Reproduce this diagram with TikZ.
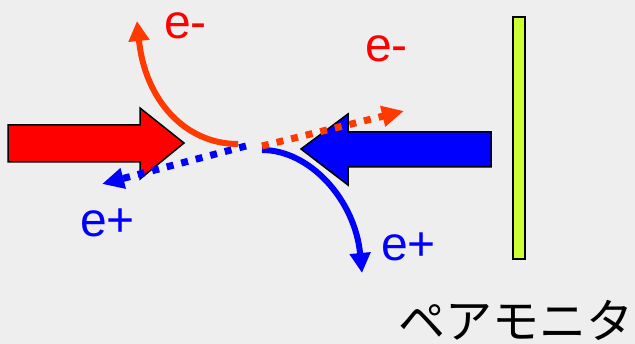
\documentclass[tikz,border=0pt]{standalone}
\usepackage{fontspec}
\setmainfont{Liberation Sans}
\newfontfamily\jpfont{Noto Sans CJK JP}
\usetikzlibrary{arrows.meta}
\definecolor{bg}{HTML}{EEEEEE}
\definecolor{eminus}{HTML}{FF3A00}
\definecolor{pbar}{HTML}{CCFF33}
\begin{document}
\begin{tikzpicture}[x=1pt,y=1pt,
  bigarrow/.style={draw=black,line width=1.5pt,line join=miter},
  curvetrack/.style={line width=6pt,-{Triangle[length=20pt,width=20pt]}},
  dottrack/.style={line width=7pt,dash pattern=on 7pt off 8pt,-{Triangle[length=22pt,width=20pt]}},
  lbl/.style={inner sep=0pt,anchor=base west,font=\fontsize{48}{50}\selectfont}]
\useasboundingbox (0,0) rectangle (635,-344);
\fill[bg] (0,0) rectangle (635,-344);
% incoming beams
\draw[bigarrow,fill=red] (8,-125) -- (140,-125) -- (140,-108) -- (184,-143) -- (140,-179) -- (140,-162) -- (8,-162) -- cycle;
\draw[bigarrow,fill=blue] (491,-132) -- (348,-132) -- (348,-114) -- (301,-149) -- (348,-185) -- (348,-167) -- (491,-167) -- cycle;
% pair monitor bar
\draw[fill=pbar,draw=black,line width=1.5pt] (513,-17) rectangle (525,-259);
% coordinates
\coordinate (rs) at (238,-144);
\coordinate (rt) at (137,-21);
\coordinate (bs) at (262,-150);
\coordinate (bt) at (362,-273);
\coordinate (ds) at (262,-146);
\coordinate (dt) at (404,-111);
\coordinate (es) at (246,-146);
\coordinate (et) at (102,-184);
% tracks
\draw[curvetrack,eminus] (rs) .. controls (185,-144) and (145,-100) .. (rt);
\draw[curvetrack,blue] (bs) .. controls (310,-150) and (355,-200) .. (bt);
\draw[dottrack,blue] (es) -- (et);
\draw[dottrack,eminus] (ds) -- (dt);
% labels
\node[lbl,text=red] (l1) at (164,-38.5) {e-};
\node[lbl,text=red] (l2) at (365,-61.5) {e-};
\node[lbl,text=blue] (l3) at (80,-236.5) {e+};
\node[lbl,text=blue] (l4) at (381,-260.5) {e+};
\node[inner sep=0pt,anchor=base west,font=\jpfont\fontsize{47}{50}\selectfont] (pm) at (398,-339) {ペアモニタ};
\end{tikzpicture}
\end{document}
